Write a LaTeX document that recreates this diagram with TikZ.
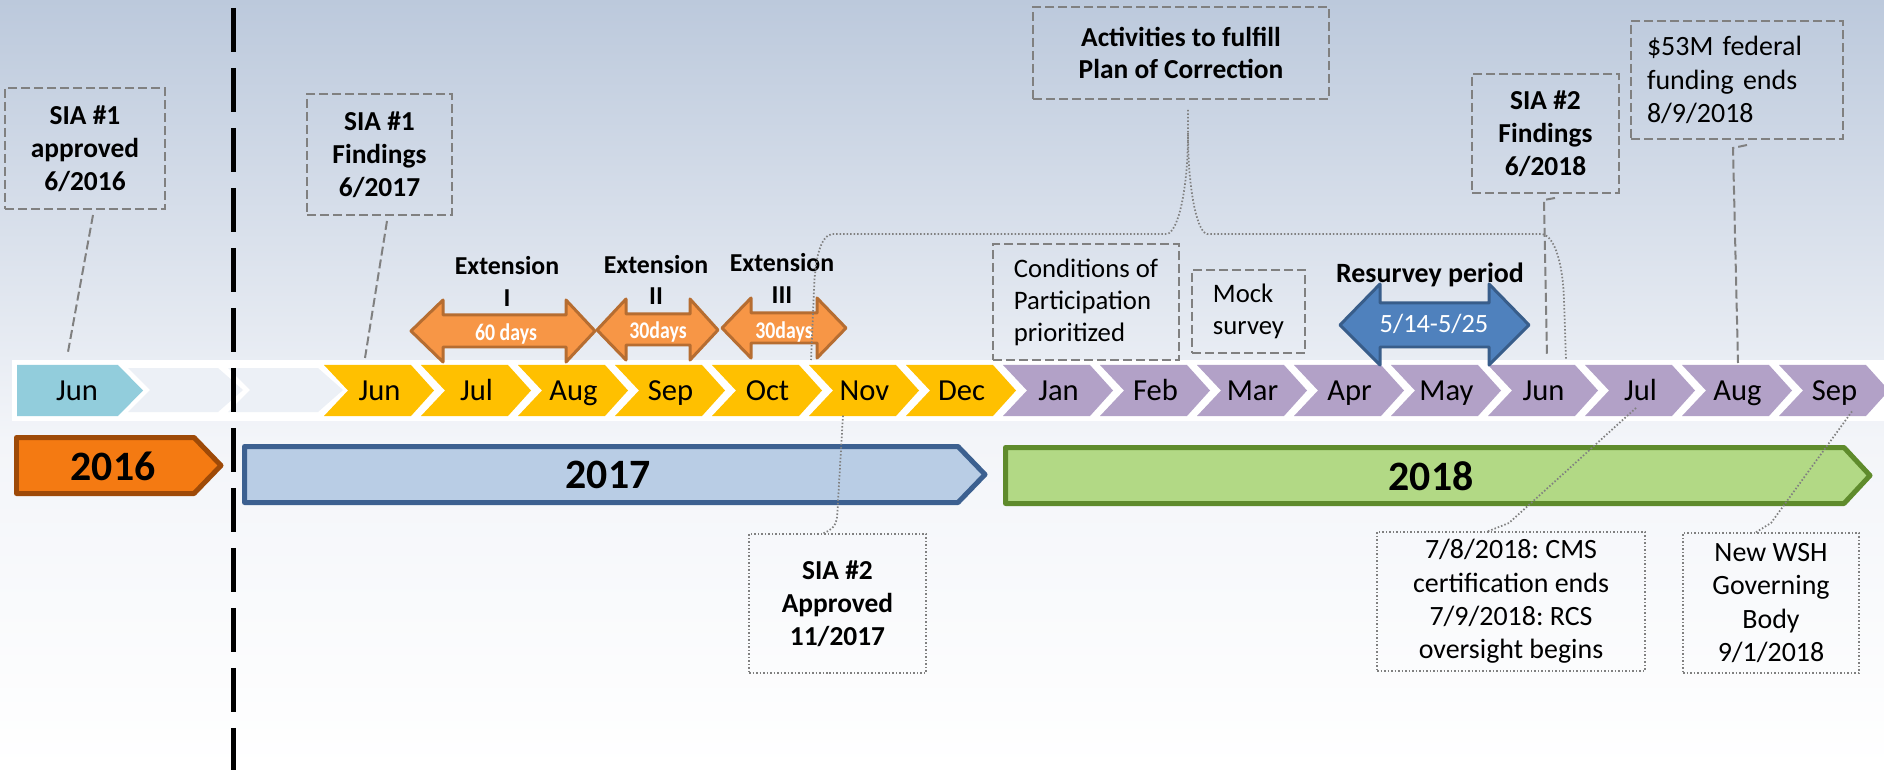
\documentclass[tikz,border=0pt]{standalone}
\usepackage{fontspec}
\usepackage{graphicx}
\setmainfont{Carlito}
\usetikzlibrary{calc}
\frenchspacing

\definecolor{bgtop}{RGB}{188,201,220}
\definecolor{bgmid}{RGB}{243,245,249}
\definecolor{junblue}{RGB}{146,205,220}
\definecolor{palechev}{RGB}{236,240,246}
\definecolor{gold}{RGB}{255,192,0}
\definecolor{lilac}{RGB}{178,161,199}
\definecolor{extfill}{RGB}{247,150,70}
\definecolor{extline}{RGB}{182,109,49}
\definecolor{survfill}{RGB}{79,129,189}
\definecolor{survline}{RGB}{56,93,138}
\definecolor{yrsixfill}{RGB}{244,122,18}
\definecolor{yrsixline}{RGB}{158,74,8}
\definecolor{yrsevfill}{RGB}{185,205,229}
\definecolor{yrsevline}{RGB}{60,96,144}
\definecolor{yreitfill}{RGB}{178,217,133}
\definecolor{yreitline}{RGB}{95,139,44}
\definecolor{callgray}{RGB}{128,128,128}

\tikzset{
  month/.style={font=\fontsize{17.4}{20}\selectfont, anchor=base, inner sep=0pt},
  yearlabel/.style={font=\fontsize{23.8}{28}\selectfont\bfseries, anchor=base, inner sep=0pt},
  yearbar/.style={line width=0.1cm, line join=round},
  extarrow/.style={fill=extfill, draw=extline, line width=0.06cm, line join=round},
  survarrow/.style={fill=survfill, draw=survline, line width=0.06cm, line join=round},
  extlabel/.style={font=\fontsize{14.7}{18.1}\selectfont\bfseries, align=center, inner sep=0pt},
  daylabel/.style={font=\fontsize{13.6}{16}\selectfont\bfseries, text=white, anchor=base, inner sep=0pt},
  calloutbold/.style={draw=callgray, line width=0.04cm, dash pattern=on 0.18cm off 0.08cm,
    align=center, inner sep=0pt, font=\fontsize{15.6}{18.7}\selectfont\bfseries},
  calloutplain/.style={draw=callgray, line width=0.04cm, dash pattern=on 0.18cm off 0.08cm,
    align=left, inner sep=0pt, font=\fontsize{15.2}{18.2}\selectfont},
  dotbox/.style={draw=callgray, line width=0.03cm, dash pattern=on 0.03cm off 0.04cm,
    align=center, inner sep=0pt, font=\fontsize{15.9}{18.9}\selectfont},
  callline/.style={draw=callgray, line width=0.04cm, dash pattern=on 0.18cm off 0.08cm},
  dotline/.style={draw=callgray, line width=0.035cm, dash pattern=on 0.03cm off 0.04cm},
  sepline/.style={line width=0.1cm, dash pattern=on 0.88cm off 0.32cm}
}

\begin{document}
\begin{tikzpicture}[x=0.02cm, y=-0.02cm]
\useasboundingbox (0,0) rectangle (1884,770);
% background
\shade[top color=bgtop, bottom color=bgmid] (0,0) rectangle (1884,440);
\shade[top color=bgmid, bottom color=white] (0,440) rectangle (1884,770);

% month band
\fill[white] (12,360) rectangle (1884,421);
\fill[junblue] (17,365) -- (118,365) -- (143,390.5) -- (118,416) -- (17,416) -- cycle;
\node[month] (jun16) at (77,400) {Jun};
\fill[palechev] (128,368) -- ++(90,0) -- ++(25,22) -- ++(-25,22) -- ++(-90,0) -- ++(22,-22) -- cycle;
\fill[palechev] (228,368) -- ++(90,0) -- ++(25,22) -- ++(-25,22) -- ++(-90,0) -- ++(22,-22) -- cycle;
\foreach \m [count=\i from 0] in {Jun,Jul,Aug,Sep,Oct,Nov,Dec} {
  \fill[gold] ({324+97*\i},365) -- ++(87,0) -- ++(23,25.5) -- ++(-23,25.5) -- ++(-87,0) -- ++(24,-25.5) -- cycle;
  \node[month] (m\i) at ({379.5+97*\i},400) {\m};
}
\foreach \m [count=\i from 7] in {Jan,Feb,Mar,Apr,May,Jun,Jul,Aug,Sep} {
  \fill[lilac] ({324+97*\i},365) -- ++(87,0) -- ++(23,25.5) -- ++(-23,25.5) -- ++(-87,0) -- ++(24,-25.5) -- cycle;
  \node[month] (m\i) at ({379.5+97*\i},400) {\m};
}

% years
\filldraw[yearbar, fill=yrsixfill, draw=yrsixline] (16.5,437.5) -- (194,437.5) -- (221,465.5) -- (194,493.5) -- (16.5,493.5) -- cycle;
\node[yearlabel] (y16) at (113,480) {2016};
\filldraw[yearbar, fill=yrsevfill, draw=yrsevline] (244.5,446.5) -- (958,446.5) -- (985,474.5) -- (958,502.5) -- (244.5,502.5) -- cycle;
\node[yearlabel] (y17) at (608,488) {2017};
\filldraw[yearbar, fill=yreitfill, draw=yreitline] (1005.5,447.5) -- (1844,447.5) -- (1870,475.5) -- (1844,503.5) -- (1005.5,503.5) -- cycle;
\node[yearlabel] (y18) at (1431,490) {2018};

% extensions
\filldraw[extarrow] (411,331) -- (443,300) -- (443,315) -- (566,315) -- (566,300) -- (595,331) -- (566,362) -- (566,347) -- (443,347) -- (443,362) -- cycle;
\filldraw[extarrow] (597,330) -- (626,299) -- (626,314) -- (690,314) -- (690,299) -- (718,330) -- (690,360) -- (690,345) -- (626,345) -- (626,360) -- cycle;
\filldraw[extarrow] (722,328) -- (751,298) -- (751,313) -- (817,313) -- (817,298) -- (846,328) -- (817,358) -- (817,343) -- (751,343) -- (751,358) -- cycle;
\node[daylabel] (d1) at (506,340) {\scalebox{0.83}[1]{60 days}};
\node[daylabel] (d2) at (658,338) {\scalebox{0.83}[1]{30days}};
\node[daylabel] (d3) at (784,338) {\scalebox{0.83}[1]{30days}};
\node[extlabel] (ext1) at (507,281.5) {Extension\\I};
\node[extlabel] (ext2) at (656,280) {Extension\\II};
\node[extlabel] (ext3) at (782,278.5) {Extension\\III};

% resurvey
\filldraw[survarrow] (1340,325) -- (1380,284) -- (1380,303) -- (1489,303) -- (1489,284) -- (1529,325) -- (1489,365) -- (1489,347) -- (1380,347) -- (1380,365) -- cycle;
\node[font=\fontsize{15}{18}\selectfont, text=white, anchor=base, inner sep=0pt] (surv) at (1434,333) {5/14-5/25};
\node[font=\fontsize{15.9}{19}\selectfont\bfseries, anchor=base, inner sep=0pt] (survtitle) at (1430,283) {Resurvey period};

% 2016 / 2017 divide
\draw[sepline] (233,8) -- (233,770);

% callouts
\node[calloutbold, minimum width=3.2cm, minimum height=2.42cm] (appr16) at (85,148.5) {SIA \#1\\approved\\6/2016};
\node[calloutbold, minimum width=2.9cm, minimum height=2.42cm] (find17) at (379.5,154.5) {SIA \#1\\Findings\\6/2017};
\node[calloutbold, minimum width=5.92cm, minimum height=1.84cm] (poc) at (1181,53) {Activities to fulfill\\Plan of Correction};
\node[calloutplain, minimum width=3.72cm, minimum height=2.32cm] (cop) at (1086,302) {Conditions of\\Participation\\prioritized};
\node[calloutplain, minimum width=2.26cm, minimum height=1.66cm] (mock) at (1248.5,311.5) {Mock\\survey};
\node[calloutbold, minimum width=2.94cm, minimum height=2.38cm] (find18) at (1545.5,133.5) {SIA \#2\\Findings\\6/2018};
\node[calloutplain, font=\fontsize{15.9}{18.9}\selectfont, text width=3.6cm, inner xsep=0.32cm, minimum height=2.36cm] (fund) at (1737,80) {\$53M federal\\funding ends\\8/9/2018};
\node[dotbox, font=\fontsize{15.6}{18.9}\selectfont\bfseries, minimum width=3.54cm, minimum height=2.78cm] (appr17) at (837.5,603.5) {SIA \#2\\Approved\\11/2017};
\node[dotbox, minimum width=5.36cm, minimum height=2.78cm] (cms) at (1511,601.5) {7/8/2018: CMS\\certification ends\\7/9/2018: RCS\\oversight begins};
\node[dotbox, minimum width=3.52cm, minimum height=2.8cm] (wsh) at (1771,603) {New WSH\\Governing\\Body\\9/1/2018};

% connectors
\coordinate (t16) at (68,352);
\coordinate (t17) at (365,358);
\coordinate (t18) at (1547,357);
\coordinate (tfund) at (1738,363);
\coordinate (tnov) at (843,415);
\coordinate (tjul) at (1637,407);
\coordinate (tsep) at (1853,410);
\coordinate (bl) at (811,360);
\coordinate (br) at (1566,360);
\draw[callline] ($(appr16.south)+(8,5)$) -- (t16);
\draw[callline] ($(find17.south)+(7.5,5)$) -- (t17);
\draw[callline] ($(find18.south)+(9.5,4)$) -- ++(-11,2) -- (t18);
\draw[callline] ($(fund.south)+(10,5)$) -- ++(-14,3) -- (tfund);
\draw[dotline] ($(appr17.north)+(-14,0)$) .. controls (836,528) and (837,522) .. (837.5,510) -- (tnov);
\draw[dotline] ($(cms.north)+(-23,0)$) -- (1509,523) -- (tjul);
\draw[dotline] ($(wsh.north)+(-15,0)$) -- (1771,523) -- (tsep);
\draw[dotline] ($(poc.south)+(7,10)$) -- (1188,133) .. controls (1188,190) and (1178,232) .. (1167,234) -- (832,234) .. controls (820,236) and (815,260) .. (814,290) -- (bl);
\draw[dotline] (1188,133) .. controls (1188,190) and (1197,232) .. (1207,234) -- (1542,234) .. controls (1555,236) and (1563,265) .. (1564,300) -- (br);
\end{tikzpicture}
\end{document}
